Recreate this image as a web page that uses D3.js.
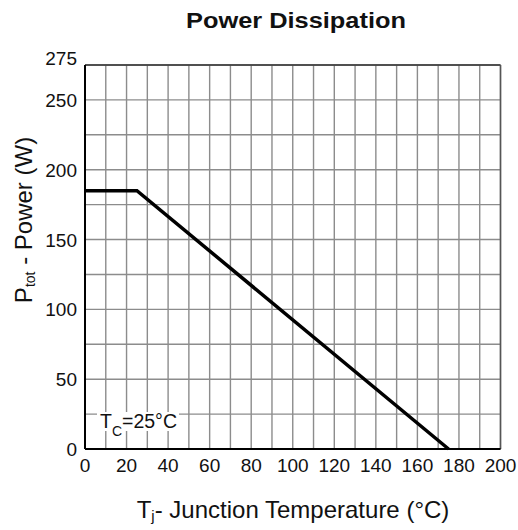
<!DOCTYPE html>
<html>
<head>
<meta charset="utf-8">
<script src="https://cdn.jsdelivr.net/npm/d3@7"></script>
<style>
  body { margin: 0; background: #fff; }
  text { font-family: "Liberation Sans", Arial, sans-serif; fill: #111; }
</style>
</head>
<body>
<svg id="chart" width="518" height="530"></svg>
<script>
'use strict'

// curve points
const tempC = [0, 25, 175]
const powerW = [185, 185, 0]

const xTicks = [0, 20, 40, 60, 80, 100, 120, 140, 160, 180, 200]
const yTicks = [0, 50, 100, 150, 200, 250, 275]
const xGrid = d3.range(0, 201, 10)
const yGrid = d3.range(0, 276, 25)

const svg = d3.select('#chart')
const m = { left: 85, right: 500.5, top: 65, bottom: 449 }

const x = d3.scaleLinear().domain([0, 200]).range([m.left, m.right])
const y = d3.scaleLinear().domain([0, 275]).range([m.bottom, m.top])

// grid
svg.append('g')
  .selectAll('line')
  .data(xGrid)
  .join('line')
  .attr('x1', d => x(d)).attr('x2', d => x(d))
  .attr('y1', m.top).attr('y2', m.bottom)
  .attr('stroke', '#8c8c8c').attr('stroke-width', 1.4)

svg.append('g')
  .selectAll('line')
  .data(yGrid)
  .join('line')
  .attr('x1', m.left).attr('x2', m.right)
  .attr('y1', d => y(d)).attr('y2', d => y(d))
  .attr('stroke', '#8c8c8c').attr('stroke-width', 1.4)

// frame
svg.append('line').attr('x1', m.left).attr('x2', m.right).attr('y1', m.top).attr('y2', m.top)
  .attr('stroke', '#333').attr('stroke-width', 1.5)
svg.append('line').attr('x1', m.right).attr('x2', m.right).attr('y1', m.top).attr('y2', m.bottom)
  .attr('stroke', '#555').attr('stroke-width', 1.5)
svg.append('line').attr('x1', m.left).attr('x2', m.left).attr('y1', m.top).attr('y2', m.bottom)
  .attr('stroke', '#000').attr('stroke-width', 2)
svg.append('line').attr('x1', m.left).attr('x2', m.right).attr('y1', m.bottom).attr('y2', m.bottom)
  .attr('stroke', '#000').attr('stroke-width', 2)

// axis labels
svg.append('g')
  .selectAll('text')
  .data(xTicks)
  .join('text')
  .attr('x', d => x(d))
  .attr('y', m.bottom + 23)
  .attr('text-anchor', 'middle')
  .attr('font-size', 19)
  .text(d => d)

svg.append('g')
  .selectAll('text')
  .data(yTicks)
  .join('text')
  .attr('x', m.left - 8)
  .attr('y', d => y(d) + (d === 275 ? 0 : 7))
  .attr('text-anchor', 'end')
  .attr('font-size', 19)
  .text(d => d)

// curve
const line = d3.line().x((d, i) => x(tempC[i])).y(d => y(d))
svg.append('path')
  .datum(powerW)
  .attr('d', line)
  .attr('fill', 'none')
  .attr('stroke', '#000')
  .attr('stroke-width', 3.5)

// Tc note
svg.append('rect')
  .attr('x', 97).attr('y', 412).attr('width', 82).attr('height', 19)
  .attr('fill', '#fff')
const note = svg.append('text').attr('x', 100).attr('y', 428).attr('font-size', 19.5)
note.append('tspan').text('T')
note.append('tspan').attr('font-size', 14).attr('dy', 8).text('C')
note.append('tspan').attr('dy', -8).text('=25°C')

// titles
svg.append('text')
  .attr('x', 296).attr('y', 28)
  .attr('text-anchor', 'middle')
  .attr('font-size', 22)
  .attr('font-weight', 'bold')
  .attr('textLength', 220)
  .attr('lengthAdjust', 'spacingAndGlyphs')
  .text('Power Dissipation')

const xl = svg.append('text')
  .attr('x', 293).attr('y', 518)
  .attr('text-anchor', 'middle')
  .attr('font-size', 24)
xl.append('tspan').text('T')
xl.append('tspan').attr('font-size', 15).attr('dy', 3).text('j')
xl.append('tspan').attr('dy', -3).text('- Junction Temperature (°C)')

const yl = svg.append('text')
  .attr('transform', 'translate(32,220) rotate(-90)')
  .attr('text-anchor', 'middle')
  .attr('font-size', 24)
yl.append('tspan').text('P')
yl.append('tspan').attr('font-size', 14).attr('dy', 3).text('tot')
yl.append('tspan').attr('dy', -3).text(' - Power (W)')
</script>
</body>
</html>
